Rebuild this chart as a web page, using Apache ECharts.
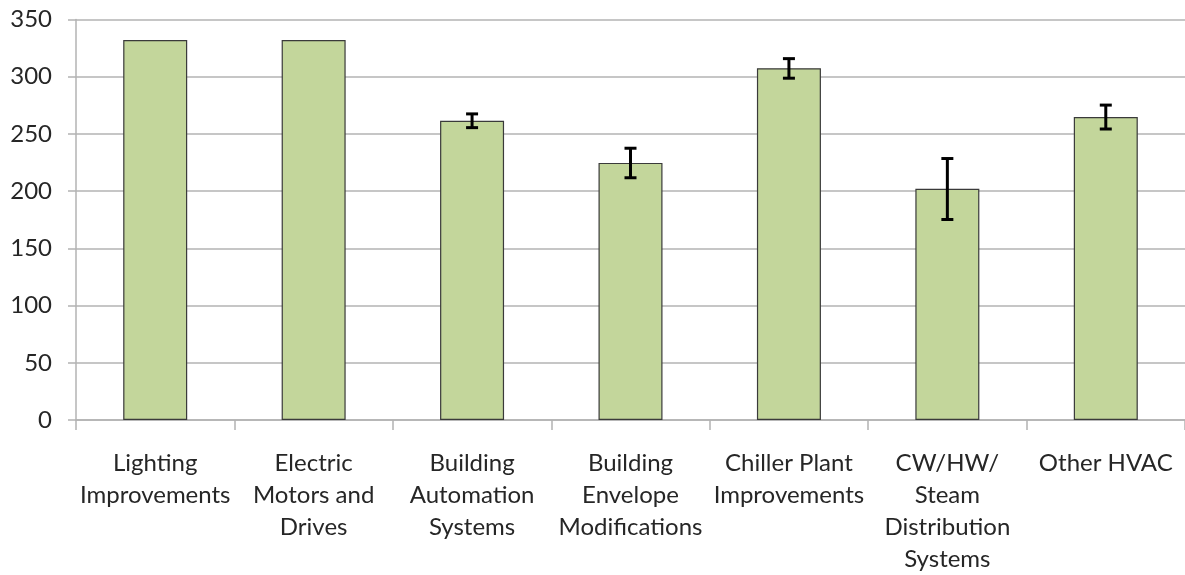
<!DOCTYPE html>
<html>
<head>
<meta charset="utf-8">
<script src="https://cdn.jsdelivr.net/npm/echarts@6/dist/echarts.min.js"></script>
<style>
  html, body { margin: 0; padding: 0; background: #fff; }
  #chart { width: 1185px; height: 575px; }
</style>
</head>
<body>
<div id="chart"></div>
<script>
// categories (x axis)
const categories = [
  'Lighting\nImprovements',
  'Electric\nMotors and\nDrives',
  'Building\nAutomation\nSystems',
  'Building\nEnvelope\nModifications',
  'Chiller Plant\nImprovements',
  'CW/HW/\nSteam\nDistribution\nSystems',
  'Other HVAC'
]

// bar heights
const values = [332, 332, 261.5, 224.7, 307.4, 202.1, 264.7]

// error bar ends (null = no error bar)
const errLow = [null, null, 255.5, 211.7, 298.7, 175.2, 254.3]
const errHigh = [null, null, 267.5, 237.5, 315.8, 228.5, 275.2]

// y axis ticks
const yTicks = [0, 50, 100, 150, 200, 250, 300, 350]

const FONT = 'Lato, "Open Sans", sans-serif'
const TEXT = '#262626'
const GRID = '#b3b3b3'

const errData = []
categories.forEach((c, i) => {
  if (errLow[i] != null) errData.push([i, errLow[i], errHigh[i]])
})

const chart = echarts.init(document.getElementById('chart'))

const option = {
  animation: false,
  grid: { left: 76, right: -5, top: 19.5, bottom: 153, containLabel: false },
  xAxis: {
    type: 'category',
    data: categories,
    axisLine: { lineStyle: { color: GRID, width: 1.5 } },
    axisTick: { show: true, length: 10, lineStyle: { color: GRID, width: 1.5 } },
    axisLabel: {
      interval: 0,
      margin: 27,
      fontFamily: FONT,
      fontSize: 24,
      lineHeight: 32,
      color: TEXT
    }
  },
  yAxis: {
    type: 'value',
    min: yTicks[0],
    max: yTicks[yTicks.length - 1],
    interval: 50,
    axisLine: { show: true, lineStyle: { color: GRID, width: 1.5 } },
    axisTick: { show: true, length: 8, lineStyle: { color: GRID, width: 1.5 } },
    splitLine: { lineStyle: { color: GRID, width: 1.5 } },
    axisLabel: {
      margin: 24,
      fontFamily: FONT,
      fontSize: 24,
      color: TEXT
    }
  },
  series: [
    {
      type: 'bar',
      data: values,
      barWidth: 64,
      itemStyle: { color: '#c3d69b', borderColor: '#3a3a3a', borderWidth: 1.2 }
    },
    {
      type: 'custom',
      data: errData,
      z: 10,
      renderItem: (params, api) => {
        const x = api.value(0)
        const lo = api.coord([x, api.value(1)])
        const hi = api.coord([x, api.value(2)])
        const cap = 6
        const style = { stroke: '#000', lineWidth: 3 }
        return {
          type: 'group',
          children: [
            { type: 'line', shape: { x1: lo[0], y1: lo[1], x2: hi[0], y2: hi[1] }, style },
            { type: 'line', shape: { x1: hi[0] - cap, y1: hi[1], x2: hi[0] + cap, y2: hi[1] }, style },
            { type: 'line', shape: { x1: lo[0] - cap, y1: lo[1], x2: lo[0] + cap, y2: lo[1] }, style }
          ]
        }
      }
    }
  ]
}

chart.setOption(option)
</script>
</body>
</html>
